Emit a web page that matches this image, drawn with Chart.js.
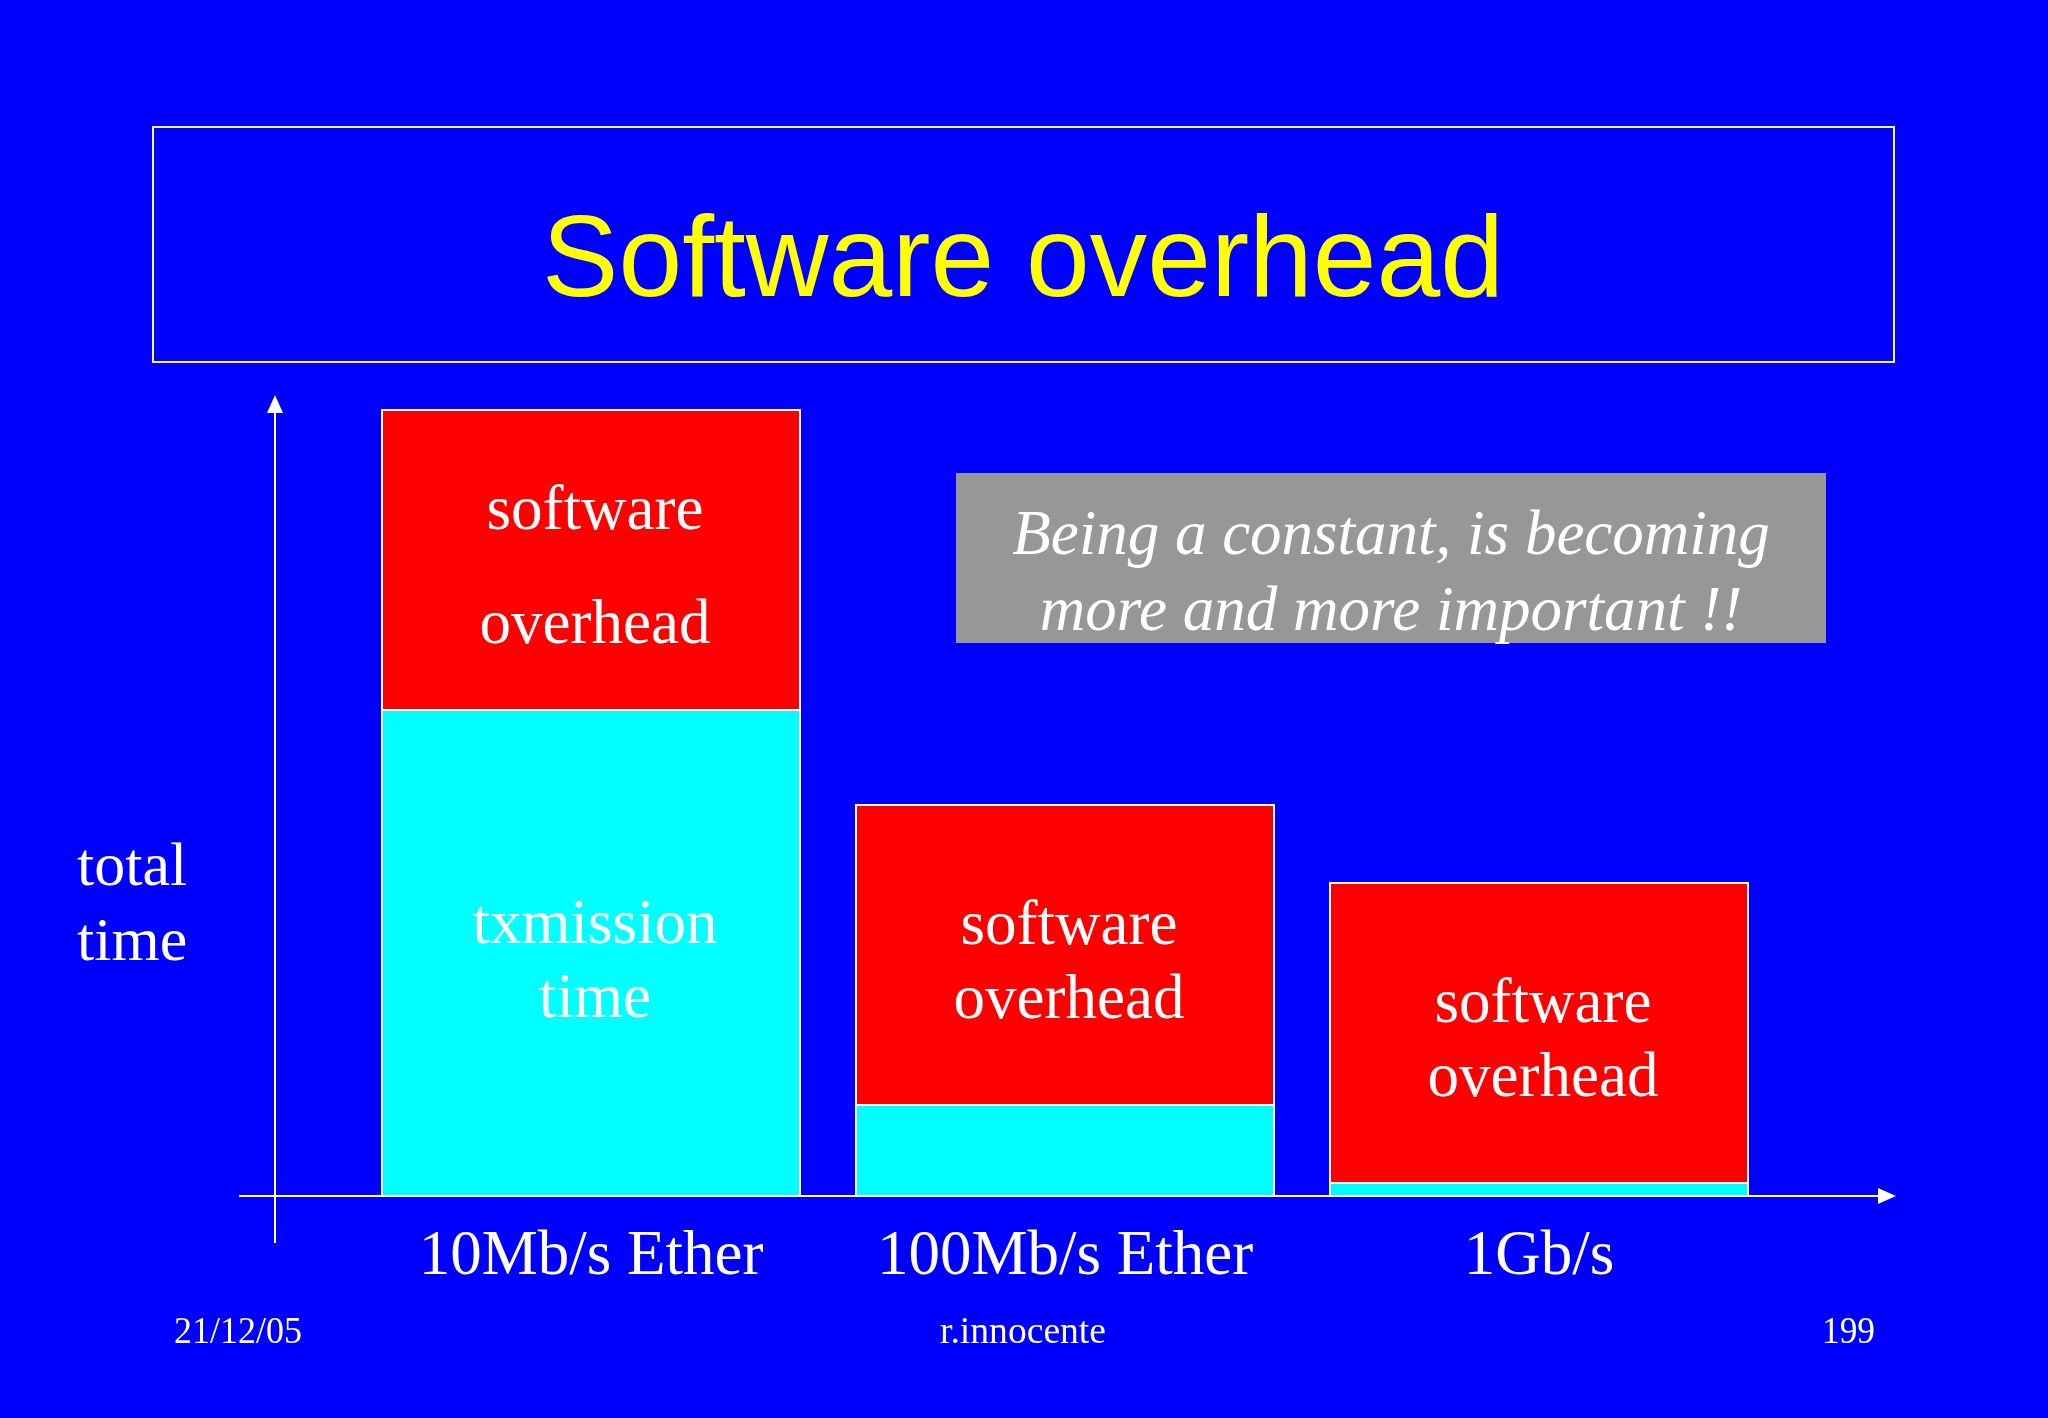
<!DOCTYPE html>
<html><head><meta charset="utf-8">
<script src="https://cdn.jsdelivr.net/npm/chart.js@4"></script>
<style>html,body{margin:0;padding:0;background:#0000ff;overflow:hidden}canvas{display:block}</style>
</head><body>
<canvas id="c" width="2048" height="1418"></canvas>
<script>
const categories = ['10Mb/s Ether', '100Mb/s Ether', '1Gb/s'];
const transmissionTime = [48.7, 9.2, 1.4];
const softwareOverhead = [30, 30, 30];
const transmissionLabels = [['txmission', 'time'], [], []];
const overheadLabels = [['software', 'overhead'], ['software', 'overhead'], ['software', 'overhead']];
const yAxisLabel = ['total', 'time'];
const titleText = 'Software overhead';
const noteLines = ['Being a constant, is becoming', 'more and more important !!'];
const footer = ['21/12/05', 'r.innocente', '199'];
const yMax = 80;

const SERIF = '"Liberation Serif", "Times New Roman", serif';
const SANS = '"Liberation Sans", Arial, sans-serif';

const deco = {
  id: 'deco',
  beforeDraw(chart) {
    const ctx = chart.ctx;
    ctx.save();
    ctx.fillStyle = '#0000ff';
    ctx.fillRect(0, 0, chart.width, chart.height);
    // title box
    ctx.strokeStyle = '#f5f570';
    ctx.lineWidth = 2;
    ctx.strokeRect(153, 127, 1741, 235);
    ctx.fillStyle = '#ffff00';
    ctx.font = '115px ' + SANS;
    ctx.textAlign = 'center';
    ctx.textBaseline = 'alphabetic';
    ctx.fillText(titleText, 1023, 296, 962);
    // note box
    ctx.fillStyle = '#979798';
    ctx.fillRect(956, 473, 870, 170);
    ctx.fillStyle = '#ffffff';
    ctx.font = 'italic 63px ' + SERIF;
    ctx.fillText(noteLines[0], 1391, 554, 758);
    ctx.fillText(noteLines[1], 1391, 630, 706);
    // y-axis title
    ctx.textAlign = 'left';
    ctx.font = '62px ' + SERIF;
    ctx.fillText(yAxisLabel[0], 77, 885);
    ctx.fillText(yAxisLabel[1], 77, 960);
    // footer
    ctx.font = '38px ' + SERIF;
    ctx.fillText(footer[0], 174, 1343, 128);
    ctx.textAlign = 'center';
    ctx.fillText(footer[1], 1023, 1343, 166);
    ctx.textAlign = 'right';
    ctx.fillText(footer[2], 1875, 1343, 53);
    ctx.restore();
  },
  afterDatasetsDraw(chart) {
    const ctx = chart.ctx;
    ctx.save();
    // segment labels
    ctx.fillStyle = '#ffffff';
    ctx.font = '63px ' + SERIF;
    ctx.textAlign = 'center';
    ctx.textBaseline = 'alphabetic';
    const sets = [transmissionLabels, overheadLabels];
    sets.forEach((labels, ds) => {
      const meta = chart.getDatasetMeta(ds);
      meta.data.forEach((bar, i) => {
        const lines = labels[i] || [];
        if (!lines.length) return;
        const gap = (ds === 1 && i === 0) ? 114 : 74;
        const center = (bar.y + bar.base) / 2 + 27;
        lines.forEach((t, k) => {
          ctx.fillText(t, bar.x + 4, center + (k - (lines.length - 1) / 2) * gap);
        });
      });
    });
    // axes with arrows
    const y0 = chart.scales.y.getPixelForValue(0);
    const ax = chart.chartArea.left - 79;
    ctx.strokeStyle = '#ffffff';
    ctx.fillStyle = '#ffffff';
    ctx.lineWidth = 2;
    ctx.beginPath();
    ctx.moveTo(239, y0); ctx.lineTo(1880, y0);
    ctx.moveTo(ax, 1243); ctx.lineTo(ax, 412);
    ctx.stroke();
    ctx.beginPath();
    ctx.moveTo(1896, y0); ctx.lineTo(1878, y0 - 8); ctx.lineTo(1878, y0 + 8); ctx.closePath();
    ctx.fill();
    ctx.beginPath();
    ctx.moveTo(ax, 395); ctx.lineTo(ax - 8, 413); ctx.lineTo(ax + 8, 413); ctx.closePath();
    ctx.fill();
    ctx.restore();
  }
};

new Chart(document.getElementById('c'), {
  type: 'bar',
  data: {
    labels: categories,
    datasets: [
      { label: 'transmission time', data: transmissionTime, backgroundColor: '#00ffff',
        borderColor: '#ffffff', borderWidth: 2, barPercentage: 0.886, categoryPercentage: 1 },
      { label: 'software overhead', data: softwareOverhead, backgroundColor: '#ff0000',
        borderColor: '#ffffff', borderWidth: 2, barPercentage: 0.886, categoryPercentage: 1 }
    ]
  },
  options: {
    responsive: false,
    animation: false,
    devicePixelRatio: 1,
    layout: { padding: { left: 354, right: 272, top: 396, bottom: 122 } },
    plugins: { legend: { display: false }, tooltip: { enabled: false }, title: { display: false } },
    scales: {
      x: {
        stacked: true,
        grid: { display: false, drawTicks: false },
        border: { display: false },
        ticks: { color: '#ffffff', font: { family: SERIF, size: 63 }, padding: 24, maxRotation: 0, autoSkip: false },
        afterFit(scale) { scale.height = 100; }
      },
      y: { stacked: true, display: false, min: 0, max: yMax }
    }
  },
  plugins: [deco]
});
</script>
</body></html>
